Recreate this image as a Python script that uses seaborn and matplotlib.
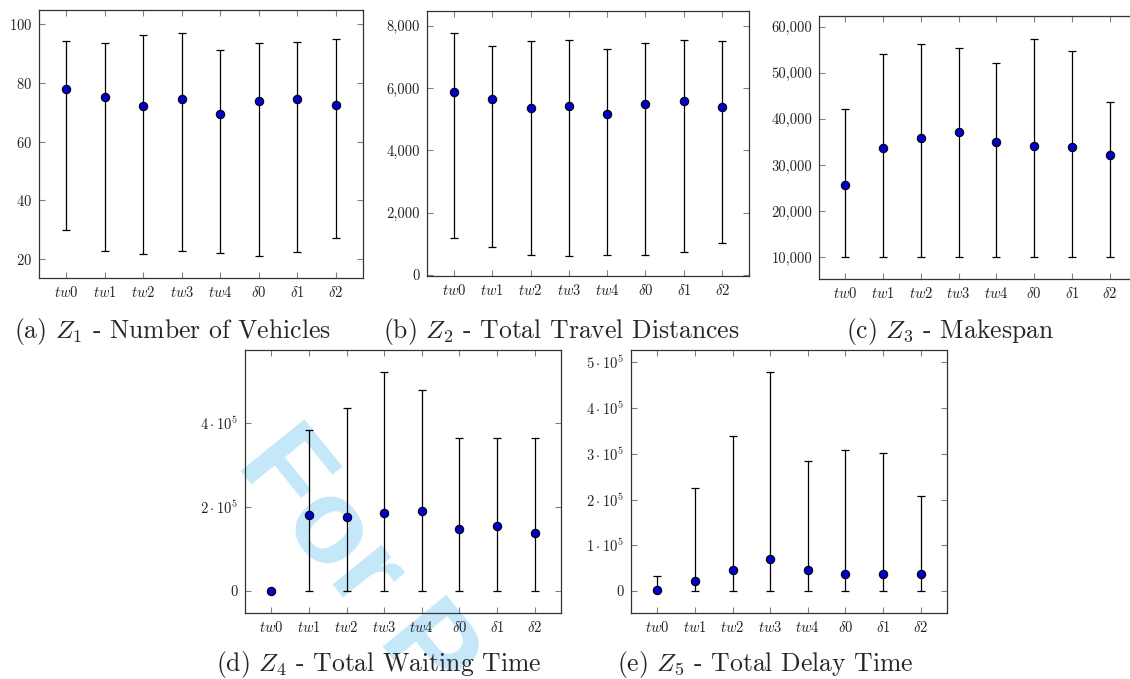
import numpy as np
import pandas as pd
import seaborn as sns
import matplotlib.pyplot as plt
from matplotlib.ticker import FuncFormatter, FixedLocator

# categories (same for every panel)
labels = ["$tw0$", "$tw1$", "$tw2$", "$tw3$", "$tw4$", r"$\delta0$", r"$\delta1$", r"$\delta2$"]

# (a) Z1 - number of vehicles
z1_mean = [77.8, 75.2, 72.1, 74.6, 69.3, 73.8, 74.6, 72.4]
z1_lo = [29.7, 22.8, 21.8, 22.6, 22.0, 21.1, 22.4, 27.2]
z1_hi = [94.1, 93.4, 96.2, 97.1, 91.2, 93.6, 94.0, 94.9]

# (b) Z2 - total travel distances
z2_mean = [5883, 5639, 5351, 5415, 5159, 5498, 5585, 5402]
z2_lo = [1173, 897, 641, 609, 650, 628, 737, 1025]
z2_hi = [7754, 7357, 7507, 7549, 7251, 7433, 7529, 7497]

# (c) Z3 - makespan
z3_mean = [25566, 33729, 35770, 37073, 34902, 34098, 33881, 32144]
z3_lo = [10000, 10000, 10000, 10000, 10000, 10000, 10000, 10000]
z3_hi = [42196, 54006, 56178, 55309, 52053, 57328, 54786, 43586]

# (d) Z4 - total waiting time
z4_mean = [0, 180250, 175480, 185700, 190500, 146900, 154000, 137400]
z4_lo = [0, 0, 0, 0, 0, 0, 0, 0]
z4_hi = [0, 381900, 435700, 521400, 478600, 362900, 364300, 363600]

# (e) Z5 - total delay time
z5_mean = [3060, 21890, 46840, 70050, 46840, 38090, 37210, 36560]
z5_lo = [0, 0, 0, 0, 0, 0, 0, 0]
z5_hi = [33710, 224200, 338600, 479400, 284600, 308700, 300800, 208000]

sns.set_style("ticks")
plt.rcParams['font.family'] = ['cmr10', 'DejaVu Serif']
plt.rcParams['mathtext.fontset'] = 'cm'
plt.rcParams['axes.formatter.use_mathtext'] = True
plt.rcParams['axes.unicode_minus'] = False

W, H = 1130, 679
fig = plt.figure(figsize=(W / 100, H / 100), dpi=100)
fig.patch.set_facecolor('white')


def add_axes_px(left, top, right, bottom):
    return fig.add_axes([left / W, 1 - bottom / H, (right - left) / W, (bottom - top) / H])


def comma_fmt(v, pos):
    return f"{v:,.0f}"


def sci_fmt(v, pos):
    k = int(round(v / 1e5))
    if k == 0:
        return "0"
    return rf"${k}\cdot10^{{5}}$"


panels = [
    (z1_mean, z1_lo, z1_hi, (39, 10, 363, 278), (13.5, 104.8), [20, 40, 60, 80, 100], None,
     "(a) $Z_1$ - Number of Vehicles", (172, 331)),
    (z2_mean, z2_lo, z2_hi, (427, 11, 749, 276), (-32, 8470), [0, 2000, 4000, 6000, 8000], comma_fmt,
     "(b) $Z_2$ - Total Travel Distances", (561, 331)),
    (z3_mean, z3_lo, z3_hi, (819, 16, 1136, 279), (5290, 62320),
     [10000, 20000, 30000, 40000, 50000, 60000], comma_fmt,
     "(c) $Z_3$ - Makespan", (950, 331)),
    (z4_mean, z4_lo, z4_hi, (245, 350, 561, 613), (-52380, 573100), [0, 200000, 400000], sci_fmt,
     "(d) $Z_4$ - Total Waiting Time", (379, 665)),
    (z5_mean, z5_lo, z5_hi, (631, 350, 947, 613), (-48160, 526900),
     [0, 100000, 200000, 300000, 400000, 500000], sci_fmt,
     "(e) $Z_5$ - Total Delay Time", (765, 665)),
]

for mean, lo, hi, box, ylim, yticks, fmt, caption, cpos in panels:
    ax = add_axes_px(*box)
    ax.set_facecolor('none')
    df = pd.DataFrame({'cat': labels, 'mean': mean, 'lo': lo, 'hi': hi})
    yerr = np.array([df['mean'] - df['lo'], df['hi'] - df['mean']])
    ax.errorbar(df['cat'], df['mean'], yerr=yerr, fmt='none', ecolor='black',
                elinewidth=0.9, capsize=2.6, capthick=0.9, zorder=2)
    sns.scatterplot(data=df, x='cat', y='mean', ax=ax, color='#0000cc', edgecolor='black',
                    linewidth=0.8, s=36, zorder=3, legend=False)
    ax.set_xlim(-0.7, 7.7)
    ax.set_ylim(*ylim)
    ax.yaxis.set_major_locator(FixedLocator(yticks))
    if fmt is not None:
        ax.yaxis.set_major_formatter(FuncFormatter(fmt))
    ax.set_xlabel('')
    ax.set_ylabel('')
    ax.tick_params(direction='in', top=True, right=True, length=4, width=0.8,
                   color='#808080', labelsize=10.5, labelcolor='#222222', pad=5)
    for s in ax.spines.values():
        s.set_color('#333333')
        s.set_linewidth(0.9)
    fig.text(cpos[0] / W, 1 - cpos[1] / H, caption, ha='center', va='center', fontsize=18.5)

# watermark of the source document (runs off the bottom edge, as in the reference)
fig.text(235 / W, 1 - 464 / H, "For P", rotation=-51, rotation_mode='anchor',
         ha='left', va='baseline', fontsize=86, fontweight='bold', family='Liberation Sans',
         color='#c4e7f9', zorder=-1)

fig.savefig('out.png', dpi=100, facecolor='white')
